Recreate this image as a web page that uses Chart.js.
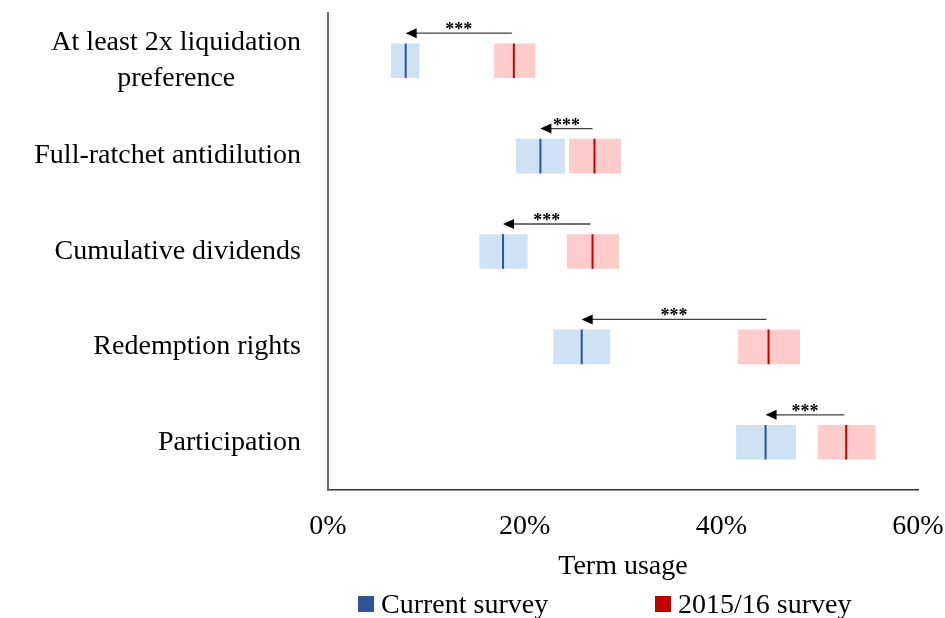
<!DOCTYPE html>
<html>
<head>
<meta charset="utf-8">
<script src="https://cdn.jsdelivr.net/npm/chart.js@4.4.0/dist/chart.umd.min.js"></script>
<style>
  body { margin: 0; background: #fff; }
  #wrap { width: 945px; height: 618px; }
</style>
</head>
<body>
<div id="wrap"><canvas id="term-usage-chart"></canvas></div>
<script>
// Data (term usage, %)
const terms = [['At least 2x liquidation', 'preference'], 'Full-ratchet antidilution', 'Cumulative dividends', 'Redemption rights', 'Participation'];

const currentMean = [7.9, 21.6, 17.8, 25.8, 44.5];
const currentLow = [6.4, 19.1, 15.4, 22.9, 41.5];
const currentHigh = [9.3, 24.1, 20.3, 28.7, 47.6];

const pastMean = [18.9, 27.1, 26.9, 44.8, 52.7];
const pastLow = [16.9, 24.5, 24.3, 41.7, 49.8];
const pastHigh = [21.1, 29.8, 29.6, 48.0, 55.7];

const significance = ['***', '***', '***', '***', '***'];
const seriesNames = ['Current survey', '2015/16 survey'];
const xTicks = [0, 20, 40, 60];

const FONT = '"Liberation Serif", "Times New Roman", serif';
const BLUE = '#2f5597', RED = '#c00000';

// y labels drawn by hand so the two-line label is centred like the original
const termLabels = {
    id: 'termLabels',
    afterDraw(chart) {
        const ctx = chart.ctx;
        const y = chart.scales.y;
        ctx.save();
        ctx.font = '28px ' + FONT;
        ctx.fillStyle = '#000';
        ctx.textBaseline = 'middle';
        ctx.textAlign = 'center';
        terms.forEach((t, i) => {
            const lines = Array.isArray(t) ? t : [t];
            const w = Math.max(...lines.map(l => ctx.measureText(l).width));
            const right = y.right - 27;
            const top = y.getPixelForValue(i) - (lines.length - 1) * 18;
            lines.forEach((l, j) => ctx.fillText(l, right - w / 2, top + j * 36));
        });
        ctx.restore();
    }
};

// arrows from old mean to new mean, with significance stars
const shiftArrows = {
    id: 'shiftArrows',
    afterDatasetsDraw(chart) {
        const ctx = chart.ctx;
        const x = chart.scales.x, y = chart.scales.y;
        ctx.save();
        pastMean.forEach((v, i) => {
            const x1 = x.getPixelForValue(v) - 2;
            const x2 = x.getPixelForValue(currentMean[i]);
            const yy = y.getPixelForValue(i) - 27.5;
            ctx.strokeStyle = '#404040';
            ctx.lineWidth = 1.3;
            ctx.beginPath();
            ctx.moveTo(x1, yy);
            ctx.lineTo(x2 + 9, yy);
            ctx.stroke();
            ctx.fillStyle = '#000';
            ctx.beginPath();
            ctx.moveTo(x2, yy);
            ctx.lineTo(x2 + 11, yy - 5);
            ctx.lineTo(x2 + 11, yy + 5);
            ctx.closePath();
            ctx.fill();
            ctx.font = 'bold 18px ' + FONT;
            ctx.textAlign = 'center';
            ctx.textBaseline = 'alphabetic';
            ctx.fillText(significance[i], (x1 + x2) / 2, yy + 2);
        });
        ctx.restore();
    }
};

const bottomLegend = {
    id: 'bottomLegend',
    afterDraw(chart) {
        const ctx = chart.ctx;
        const area = chart.chartArea;
        const colors = [BLUE, RED];
        const starts = [area.left + 30, area.left + 327];
        ctx.save();
        ctx.font = '28px ' + FONT;
        ctx.textBaseline = 'middle';
        ctx.textAlign = 'left';
        seriesNames.forEach((name, i) => {
            ctx.fillStyle = colors[i];
            ctx.fillRect(starts[i], 596, 16, 16);
            ctx.fillStyle = '#000';
            ctx.fillText(name, starts[i] + 23, 606);
        });
        ctx.restore();
    }
};

const pairs = (lo, hi) => lo.map((v, i) => [v, hi[i]]);

new Chart(document.getElementById('term-usage-chart'), {
    data: {
        labels: terms.map(t => Array.isArray(t) ? t.join(' ') : t),
        datasets: [
            {
                type: 'line',
                label: seriesNames[0] + ' mean',
                data: currentMean,
                showLine: false,
                pointStyle: 'line',
                rotation: 90,
                radius: 17.3,
                hoverRadius: 17.3,
                borderColor: BLUE,
                borderWidth: 2,
                order: 0
            },
            {
                type: 'line',
                label: seriesNames[1] + ' mean',
                data: pastMean,
                showLine: false,
                pointStyle: 'line',
                rotation: 90,
                radius: 17.3,
                hoverRadius: 17.3,
                borderColor: RED,
                borderWidth: 2,
                order: 0
            },
            {
                type: 'bar',
                label: seriesNames[0],
                data: pairs(currentLow, currentHigh),
                backgroundColor: '#cfe2f3',
                grouped: false,
                order: 1
            },
            {
                type: 'bar',
                label: seriesNames[1],
                data: pairs(pastLow, pastHigh),
                backgroundColor: '#ffcccc',
                grouped: false,
                order: 1
            }
        ]
    },
    options: {
        indexAxis: 'y',
        responsive: true,
        maintainAspectRatio: false,
        animation: false,
        layout: { autoPadding: false, padding: { top: 13, right: 27, left: 0, bottom: 0 } },
        datasets: { bar: { categoryPercentage: 1, barPercentage: 0.363 } },
        plugins: { legend: { display: false }, tooltip: { enabled: false } },
        scales: {
            x: {
                min: 0,
                max: 60,
                afterBuildTicks: s => { s.ticks = xTicks.map(v => ({ value: v })); },
                afterFit: s => { s.height = 128; s.paddingLeft = 0; s.paddingRight = 0; },
                grid: { display: false },
                border: { display: true, color: '#333', width: 1.5 },
                ticks: {
                    padding: 12,
                    color: '#000',
                    font: { family: FONT, size: 28 },
                    callback: v => v + '%'
                },
                title: {
                    display: true,
                    text: 'Term usage',
                    color: '#000',
                    font: { family: FONT, size: 28 },
                    padding: { top: 0, bottom: 35 }
                }
            },
            y: {
                afterFit: s => { s.width = 328; },
                grid: { display: false },
                border: { display: true, color: '#6b6b6b', width: 2 },
                ticks: { display: false }
            }
        }
    },
    plugins: [termLabels, shiftArrows, bottomLegend]
});
</script>
</body>
</html>
